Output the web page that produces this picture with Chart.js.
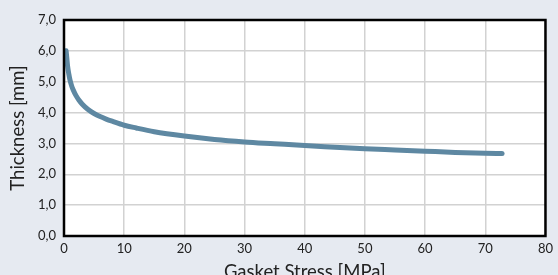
<!DOCTYPE html>
<html>
<head>
<meta charset="utf-8">
<script src="https://cdn.jsdelivr.net/npm/chart.js@4"></script>
<style>
  html, body { margin: 0; padding: 0; background: #e6eaf1; }
  #wrap { width: 558px; height: 275px; }
</style>
</head>
<body>
<div id="wrap"><canvas id="chart" width="558" height="275"></canvas></div>
<script>
// values
const stress = [0.35, 0.45, 0.6, 0.8, 1, 1.25, 1.5, 2, 2.5, 3, 4, 5, 6, 7, 8, 10, 12, 15, 20, 25, 30, 35, 40, 45, 50, 55, 60, 65, 70, 72.8];
const thickness = [6.0, 5.8, 5.5, 5.25, 5.05, 4.88, 4.75, 4.55, 4.4, 4.28, 4.1, 3.97, 3.87, 3.79, 3.72, 3.59, 3.5, 3.38, 3.24, 3.13, 3.05, 2.99, 2.93, 2.88, 2.83, 2.79, 2.75, 2.71, 2.68, 2.67];

const xTitle = 'Gasket Stress [MPa]';
const yTitle = 'Thickness [mm]';

const plotFrame = {
    id: 'plotFrame',
    beforeDraw(chart) {
        const { ctx, chartArea: a } = chart;
        ctx.save();
        ctx.fillStyle = '#ffffff';
        ctx.fillRect(a.left, a.top, a.right - a.left, a.bottom - a.top);
        ctx.restore();
    },
    afterDatasetsDraw(chart) {
        const { ctx, chartArea: a } = chart;
        ctx.save();
        ctx.strokeStyle = '#000000';
        ctx.lineWidth = 2.5;
        ctx.strokeRect(a.left, a.top, a.right - a.left, a.bottom - a.top);
        ctx.restore();
    }
};

const tickFont = { family: 'Lato', size: 13 };
const titleFont = { family: 'Lato', size: 18.5 };

new Chart(document.getElementById('chart'), {
    type: 'scatter',
    data: {
        datasets: [{
            data: stress.map((s, i) => ({ x: s, y: thickness[i] })),
            showLine: true,
            borderColor: '#5e88a2',
            borderWidth: 5,
            borderCapStyle: 'round',
            borderJoinStyle: 'round',
            pointRadius: 0,
            cubicInterpolationMode: 'monotone'
        }]
    },
    options: {
        responsive: false,
        animation: false,
        layout: { padding: { top: 20, right: 9, left: 0, bottom: 0 } },
        plugins: { legend: { display: false }, tooltip: { enabled: false } },
        scales: {
            x: {
                min: 0, max: 80,
                ticks: { stepSize: 10, color: '#222', font: tickFont, padding: 5, maxRotation: 0 },
                grid: { color: '#d2d2d2', lineWidth: 1.5, drawTicks: false },
                border: { display: false },
                title: { display: true, text: xTitle, color: '#222', font: titleFont, padding: { top: 0, bottom: -8 } },
                afterFit(scale) { scale.height = 39; }
            },
            y: {
                min: 0, max: 7,
                ticks: {
                    stepSize: 1, color: '#222', font: tickFont, padding: 8,
                    callback: v => v.toFixed(1).replace('.', ',')
                },
                grid: { color: '#d2d2d2', lineWidth: 1.5, drawTicks: false },
                border: { display: false },
                title: { display: true, text: yTitle, color: '#222', font: titleFont, padding: { top: 7, bottom: 0 } },
                afterFit(scale) { scale.width = 64; }
            }
        }
    },
    plugins: [plotFrame]
});
</script>
</body>
</html>
